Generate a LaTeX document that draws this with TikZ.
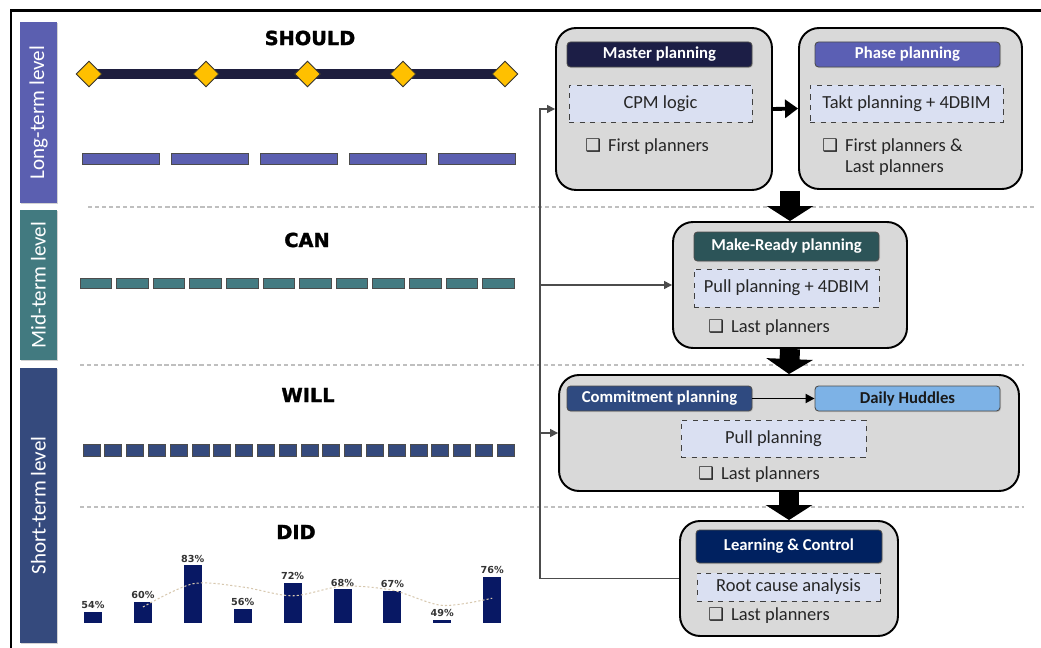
\documentclass[tikz,border=0pt]{standalone}
\usepackage{fontspec}
\setmainfont{Carlito}
\newfontfamily\hvyfont{DejaVu Sans}[BoldFeatures={FakeBold=1.6}]
\newfontfamily\pctfont{DejaVu Sans}
\newfontfamily\chkfont{DejaVu Sans}
\usetikzlibrary{arrows.meta,positioning,backgrounds,shapes.geometric,shadows}
\definecolor{lpurple}{RGB}{91,95,176}
\definecolor{lteal}{RGB}{66,122,128}
\definecolor{lblue}{RGB}{53,74,125}
\definecolor{tline}{RGB}{30,30,62}
\definecolor{gold}{RGB}{255,192,0}
\definecolor{tealbar}{RGB}{68,123,130}
\definecolor{chartbar}{RGB}{8,24,100}
\definecolor{boxgray}{RGB}{217,217,217}
\definecolor{taskfill}{RGB}{218,224,242}
\definecolor{hmaster}{RGB}{28,30,70}
\definecolor{hphase}{RGB}{91,95,180}
\definecolor{hready}{RGB}{44,84,88}
\definecolor{hcommit}{RGB}{47,74,128}
\definecolor{hdaily}{RGB}{125,178,230}
\definecolor{hlearn}{RGB}{0,33,96}
\definecolor{trendc}{RGB}{215,200,175}
\newcommand{\chk}{{\chkfont\fontsize{10}{11}\selectfont ❑}}

\begin{document}
\begin{tikzpicture}[
  x=0.02cm, y=-0.02cm,
  font=\fontsize{10.5}{11.5}\selectfont,
  lvl/.style={rotate=90,text=white,font=\fontsize{12}{14}\selectfont,minimum height=0.74cm,inner sep=0pt,drop shadow={shadow xshift=0.8pt,shadow yshift=-0.8pt,opacity=0.35}},
  ttl/.style={font=\hvyfont\bfseries\fontsize{11}{13}\selectfont},
  ms/.style={diamond,aspect=1,draw=black!80,fill=gold,line width=0.5pt,minimum size=0.52cm,inner sep=0pt},
  tl/.style={draw=tline,line width=0.2cm},
  seg/.style={draw=black!70,line width=0.4pt},
  sep/.style={draw=black!25,line width=0.6pt,dash pattern=on 2.4pt off 1.6pt},
  stage/.style={rounded corners=0.4cm,draw=black,fill=boxgray,line width=1.1pt},
  hd/.style={rounded corners=2pt,draw=black!70,line width=0.5pt,fill=#1,text=white,font=\bfseries\fontsize{9.5}{11}\selectfont,minimum width=3.7cm,minimum height=0.5cm,inner sep=0pt,drop shadow={shadow xshift=0.6pt,shadow yshift=-0.6pt,opacity=0.3}},
  task/.style={draw=black!75,dashed,line width=0.5pt,fill=taskfill,minimum width=3.66cm,minimum height=0.74cm,inner sep=0pt,text=black!85},
  who/.style={anchor=west,align=left,text=black!85,inner sep=0pt},
  pct/.style={font=\pctfont\bfseries\fontsize{5.5}{6.5}\selectfont,text=black!80,inner sep=0.5pt,anchor=south},
  trend/.style={draw=trendc,line width=0.6pt,dash pattern=on 1.2pt off 1.2pt},
  bigarr/.style={line width=0.4cm,-{Triangle[length=0.3cm,width=0.92cm]}},
  arr/.style={line width=2.2pt,-{Triangle[length=2.6mm,width=3.6mm]}},
  thinarr/.style={line width=1pt,-{Triangle[length=1.8mm,width=1.8mm]}},
  fb/.style={draw=black!70,line width=0.7pt,-{Triangle[length=1.6mm,width=1.6mm]}},
  ]
  \useasboundingbox (0,0) rectangle (1041,648);
  \draw[line width=0.06cm] (11,648) -- (11,11) -- (1041,11);

  \node[lvl,fill=lpurple,minimum width=3.62cm] (lt) at (38.5,112.5) {Long-term level};
  \node[lvl,fill=lteal,minimum width=3.0cm]    (mt) at (38.5,285)   {Mid-term level};
  \node[lvl,fill=lblue,minimum width=5.5cm]    (st) at (38.5,505.5) {Short-term level};

  \draw[sep] (88,207) -- (1035,207);
  \draw[sep] (80,365) -- (1024,365);
  \draw[sep] (80,507) -- (1024,507);

  \node[ttl] (should) at (310,38)  {SHOULD};
  \node[ttl] (can)    at (307,240) {CAN};
  \node[ttl] (will)   at (308,395) {WILL};
  \node[ttl] (did)    at (296,532) {DID};

  \foreach \x [count=\i] in {89,206,307.5,403,505}
    \node[ms] (d\i) at (\x,74) {};
  \begin{scope}[on background layer]
    \draw[tl] (d1.center) -- (d5.center);
  \end{scope}

  \foreach \i in {0,...,4}
    \filldraw[seg,fill=lpurple] (82+89*\i,153) rectangle ++(77,11);
  \foreach \i in {0,...,11}
    \filldraw[seg,fill=tealbar] (80+36.6*\i,278) rectangle ++(31.5,10.5);
  \foreach \i in {0,...,19}
    \filldraw[seg,fill=lblue] (83+21.8*\i,444) rectangle ++(17,12);

  \foreach \p [count=\i] in {54,60,83,56,72,68,67,49,76} {
    \pgfmathsetmacro\bx{93+49.9*(\i-1)}
    \pgfmathsetmacro\bt{623-(\p-47)*1.6}
    \fill[chartbar] (\bx-9,623) rectangle (\bx+9,\bt);
    \node[pct] (p\i) at (\bx,\bt-2) {\p\%};
  }
  \draw[trend] plot[smooth] coordinates {(142.9,607) (192.8,583.8) (242.7,587) (292.6,595.8) (342.5,586.2) (392.4,590.2) (442.3,605.4) (492.2,598.2)};

  \node[stage,minimum width=4.32cm,minimum height=3.24cm] (master) at (664,109)   {};
  \node[stage,minimum width=4.46cm,minimum height=3.22cm] (phase)  at (910.5,108.5) {};
  \node[stage,minimum width=4.68cm,minimum height=2.52cm] (ready)  at (790,285)   {};
  \node[stage,minimum width=9.2cm,minimum height=2.32cm]  (commit) at (789,433)   {};
  \node[stage,minimum width=4.36cm,minimum height=2.3cm]  (learn)  at (789,578.5) {};

  \node[hd=hmaster] (mhd) at (659.5,54.5)  {Master planning};
  \node[hd=hphase]  (phd) at (907.5,54.5)  {Phase planning};
  \node[hd=hready,minimum height=0.58cm] (rhd) at (786.5,246.5) {Make-Ready planning};
  \node[hd=hcommit] (chd) at (659.5,398.5) {Commitment planning};
  \node[hd=hdaily,text=black!90] (dhd) at (907.5,398.5) {Daily Huddles};
  \node[hd=hlearn,minimum width=3.72cm,minimum height=0.66cm] (lhd) at (789,546.5) {Learning \& Control};

  \node[task] (mtask) at (660.5,103.5) {CPM logic};
  \node[task,minimum width=3.86cm] (ptask) at (906.5,103.5) {Takt planning + 4DBIM};
  \node[task,minimum width=3.7cm,minimum height=0.76cm] (rtask) at (786.5,288) {Pull planning + 4DBIM};
  \node[task,minimum width=3.7cm] (ctask) at (773.5,438.5) {Pull planning};
  \node[task,minimum height=0.56cm] (ltask) at (788.5,587) {Root cause analysis};

  \node[who] (mwho) at (585,147) {\chk\hspace{4pt}First planners};
  \node[who] (pwho) at (822,157) {\chk\hspace{4pt}First planners \&\\\phantom{\chk}\hspace{4pt}Last planners};
  \node[who] (rwho) at (708,328) {\chk\hspace{4pt}Last planners};
  \node[who] (cwho) at (698,475) {\chk\hspace{4pt}Last planners};
  \node[who] (lwho) at (708,616) {\chk\hspace{4pt}Last planners};

  \draw[arr] (master.east) -- (phase.west);
  \draw[thinarr] (chd) -- (dhd);
  \draw[bigarr] (ready.north |- master.south) -- (ready.north);
  \draw[bigarr] (ready.south) -- (commit.north);
  \draw[bigarr] (commit.south) -- (learn.north);

  \coordinate (fbx) at (540,578.5);
  \draw[fb] (learn.west) -- (fbx |- learn.west) |- (master.west);
  \draw[fb] (fbx |- ready.west) -- (ready.west);
  \draw[fb] (fbx |- commit.west) -- (commit.west);
\end{tikzpicture}
\end{document}
